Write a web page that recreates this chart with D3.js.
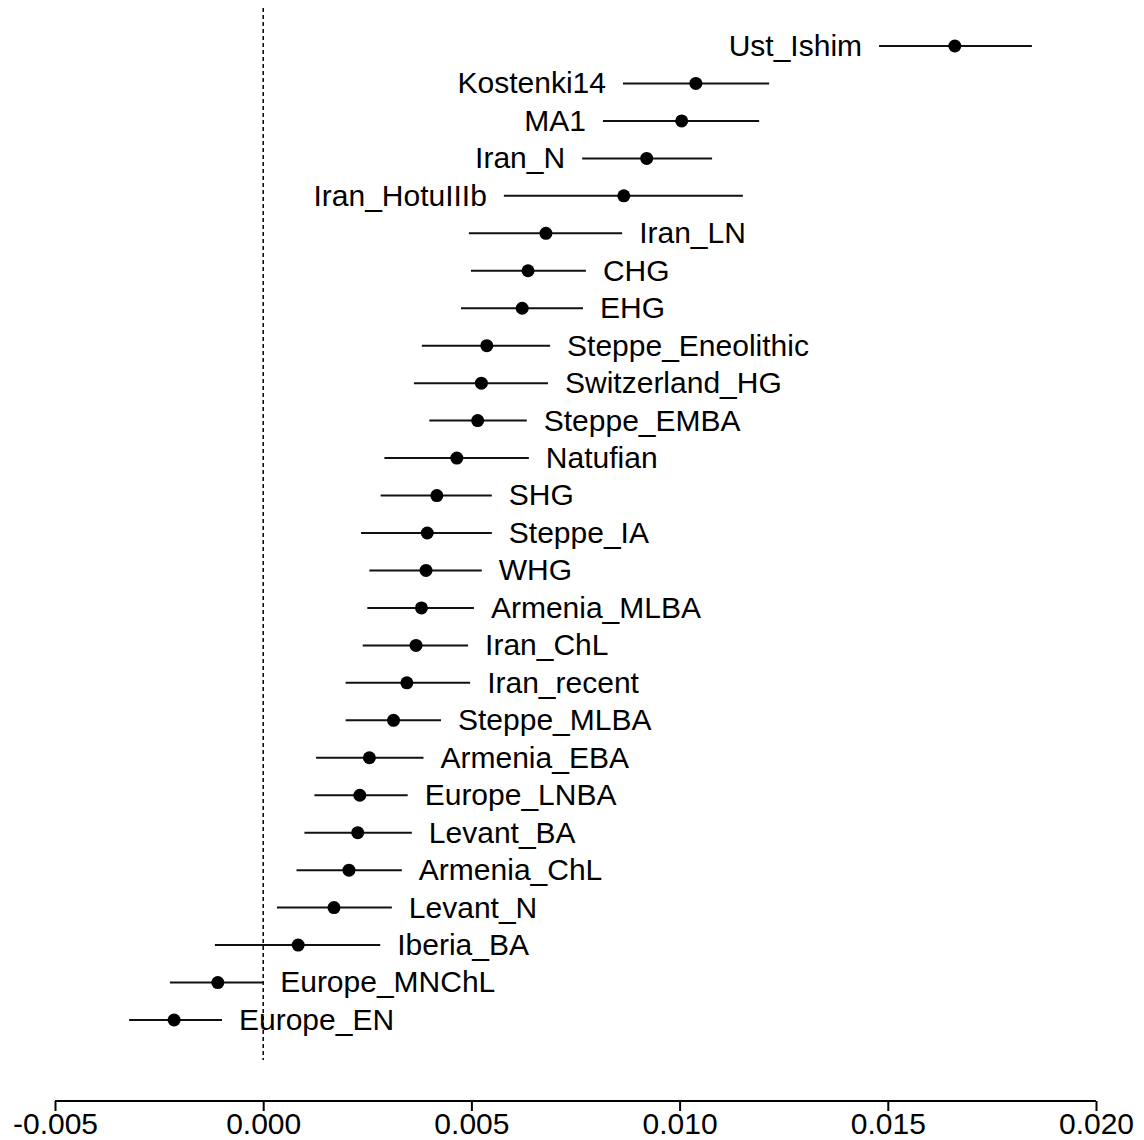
<!DOCTYPE html>
<html>
<head>
<meta charset="utf-8">
<script src="https://cdn.jsdelivr.net/npm/d3@7"></script>
<style>
  html, body { margin: 0; padding: 0; background: #fff; }
  text { font-family: "Liberation Sans", Arial, Helvetica, sans-serif; fill: #000; }
</style>
</head>
<body>
<svg id="chart" width="1144" height="1140"></svg>
<script>
const categories = ["Ust_Ishim","Kostenki14","MA1","Iran_N","Iran_HotuIIIb","Iran_LN","CHG","EHG",
  "Steppe_Eneolithic","Switzerland_HG","Steppe_EMBA","Natufian","SHG","Steppe_IA","WHG","Armenia_MLBA",
  "Iran_ChL","Iran_recent","Steppe_MLBA","Armenia_EBA","Europe_LNBA","Levant_BA","Armenia_ChL",
  "Levant_N","Iberia_BA","Europe_MNChL","Europe_EN"];
const estimate = [0.01661,0.01039,0.01005,0.00921,0.00866,0.00679,0.00636,0.00622,
  0.00537,0.00524,0.00515,0.00465,0.00417,0.00394,0.00391,0.00380,
  0.00367,0.00345,0.00313,0.00255,0.00232,0.00227,0.00206,
  0.00170,0.00084,-0.00109,-0.00214];
const lower = [0.01479,0.00864,0.00816,0.00766,0.00578,0.00494,0.00499,0.00475,
  0.00381,0.00362,0.00399,0.00291,0.00282,0.00235,0.00255,0.00250,
  0.00239,0.00198,0.00198,0.00127,0.00123,0.00099,0.00080,
  0.00033,-0.00116,-0.00224,-0.00322];
const upper = [0.01846,0.01215,0.01191,0.01078,0.01152,0.00862,0.00775,0.00768,
  0.00689,0.00684,0.00633,0.00638,0.00549,0.00549,0.00525,0.00506,
  0.00492,0.00497,0.00427,0.00385,0.00347,0.00357,0.00333,
  0.00309,0.00281,0.00000,-0.00099];
const xTicks = [-0.005, 0.000, 0.005, 0.010, 0.015, 0.020];

const svg = d3.select("#chart");
const x = d3.scaleLinear().domain([-0.005, 0.020]).range([55, 1096]);
const y = d3.scalePoint().domain(categories).range([46, 1020]);

const rows = categories.map((c, i) => ({ name: c, est: estimate[i], lo: lower[i], hi: upper[i] }));

// zero reference line (dotted)
svg.append("line")
  .attr("x1", x(0)).attr("x2", x(0))
  .attr("y1", 8).attr("y2", 1060)
  .attr("stroke", "#000").attr("stroke-width", 1.5)
  .attr("stroke-dasharray", "4,3");

// error bars
svg.append("g").selectAll("line").data(rows).join("line")
  .attr("x1", d => x(d.lo)).attr("x2", d => x(d.hi))
  .attr("y1", d => y(d.name)).attr("y2", d => y(d.name))
  .attr("stroke", "#111").attr("stroke-width", 2);

// points
svg.append("g").selectAll("circle").data(rows).join("circle")
  .attr("cx", d => x(d.est)).attr("cy", d => y(d.name))
  .attr("r", 6.5).attr("fill", "#000");

// labels: left of the interval for the highest estimates, right otherwise
const gap = 17;
svg.append("g").selectAll("text").data(rows).join("text")
  .attr("x", d => d.est > 0.0085 ? x(d.lo) - gap : x(d.hi) + gap)
  .attr("y", d => y(d.name))
  .attr("dy", "0.33em")
  .attr("text-anchor", d => d.est > 0.0085 ? "end" : "start")
  .attr("font-size", 30)
  .text(d => d.name);

// x axis
const axis = d3.axisBottom(x).tickValues(xTicks).tickFormat(d => d.toFixed(3)).tickSize(10).tickPadding(0);
const gx = svg.append("g").attr("transform", "translate(0,1101)").call(axis);
gx.select(".domain").attr("stroke", "#000").attr("stroke-width", 2).attr("d", `M${x(-0.005)},0H${x(0.020)}`);
gx.selectAll(".tick line").attr("stroke", "#000").attr("stroke-width", 2);
gx.selectAll(".tick text").attr("font-size", 30).attr("font-family", "'Liberation Sans', Arial, sans-serif").attr("fill", "#000").attr("dy", "0.78em");
</script>
</body>
</html>
